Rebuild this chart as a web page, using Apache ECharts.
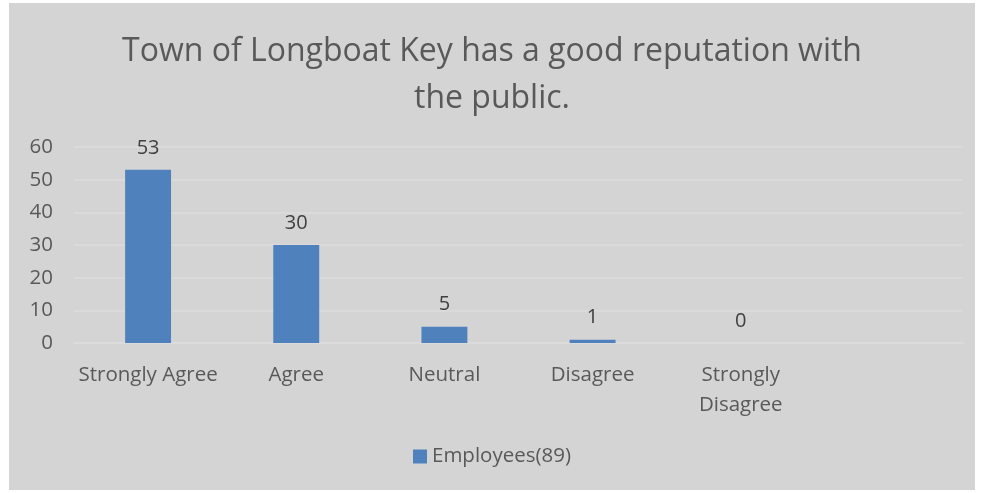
<!DOCTYPE html>
<html>
<head>
<meta charset="utf-8">
<script src="https://cdn.jsdelivr.net/npm/echarts@6/dist/echarts.min.js"></script>
<style>
  html, body { margin: 0; padding: 0; background: #ffffff; }
  #chart { position: absolute; left: 9px; top: 3px; width: 966px; height: 487px; }
</style>
</head>
<body>
<div id="chart"></div>
<script>
const categories = ['Strongly Agree', 'Agree', 'Neutral', 'Disagree', 'Strongly\nDisagree', ''];
const employees = [53, 30, 5, 1, 0, null];
const seriesName = 'Employees(89)';
const yTicks = { min: 0, max: 60, interval: 10 };

let chartDom = document.getElementById('chart');
let chart = echarts.init(chartDom);
window.addEventListener('resize', function () {
    chart.resize();
});

const font = 'Open Sans, Liberation Sans, sans-serif';

let option = {
    backgroundColor: '#d4d4d4',
    title: {
        text: 'Town of Longboat Key has a good reputation with\nthe public.',
        left: 'center',
        top: 20,
        textStyle: {
            fontFamily: font,
            fontSize: 32,
            fontWeight: 'normal',
            color: '#595959',
            lineHeight: 47
        }
    },
    legend: {
        bottom: 18,
        left: 'center',
        itemWidth: 14,
        itemHeight: 14,
        itemGap: 5,
        icon: 'rect',
        textStyle: { fontFamily: font, fontSize: 20.5, color: '#595959' },
        data: [seriesName]
    },
    grid: {
        left: 65,
        right: 12,
        top: 144,
        bottom: 147
    },
    xAxis: {
        type: 'category',
        data: categories,
        axisLine: { show: true, lineStyle: { color: '#dcdcdc', width: 1.5 } },
        axisTick: { show: false },
        axisLabel: {
            fontFamily: font,
            fontSize: 20.5,
            color: '#595959',
            margin: 17,
            lineHeight: 30,
            interval: 0
        }
    },
    yAxis: {
        type: 'value',
        min: yTicks.min,
        max: yTicks.max,
        interval: yTicks.interval,
        axisLine: { show: false },
        axisTick: { show: false },
        splitLine: { lineStyle: { color: '#dcdcdc', width: 1.5 } },
        axisLabel: {
            fontFamily: font,
            fontSize: 20.5,
            color: '#595959',
            margin: 21
        }
    },
    series: [
        {
            name: seriesName,
            type: 'bar',
            data: employees,
            barWidth: '31%',
            itemStyle: { color: '#4f81bd' },
            label: {
                show: true,
                position: 'top',
                distance: 12,
                fontFamily: font,
                fontSize: 20,
                color: '#404040'
            }
        }
    ]
};

option && chart.setOption(option);
</script>
</body>
</html>
